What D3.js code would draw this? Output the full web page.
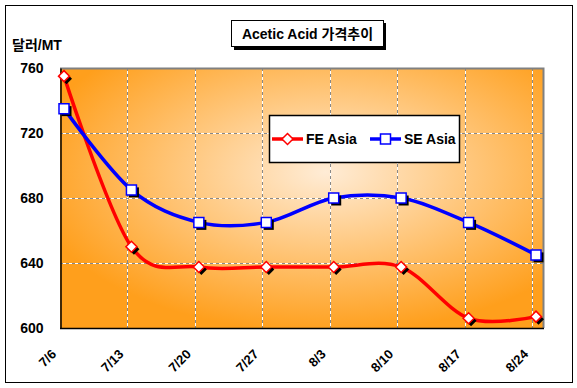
<!DOCTYPE html>
<html>
<head>
<meta charset="utf-8">
<script src="https://cdn.jsdelivr.net/npm/d3@7"></script>
<style>
  body { margin: 0; background: #fff; }
  text { font-family: "Liberation Sans", Arial, "Noto Sans CJK KR", sans-serif; font-weight: bold; }
</style>
</head>
<body>
<div id="chart"></div>
<script>
var dates = ["7/6", "7/13", "7/20", "7/27", "8/3", "8/10", "8/17", "8/24"];
var feAsia = [755, 650, 637.5, 637.5, 637.5, 637.5, 606, 607];
var seAsia = [735, 685, 665, 665, 680, 680, 665, 645];
var yTicks = [600, 640, 680, 720, 760];
var seriesNames = ["FE Asia", "SE Asia"];
var seriesColors = ["#ff0000", "#0000ff"];

var width = 577, height = 388;
var plot = { left: 60, right: 543, top: 68, bottom: 328 };
var markOffset = 4;

var svg = d3.select("#chart").append("svg")
  .attr("width", width)
  .attr("height", height);

// outer frame
svg.append("rect")
  .attr("x", 5.5).attr("y", 5.5)
  .attr("width", 567).attr("height", 377)
  .attr("fill", "#fff").attr("stroke", "#000");

var x = d3.scalePoint().domain(dates).range([plot.left, 532]);
var y = d3.scaleLinear().domain([600, 760]).range([plot.bottom, plot.top]);

var defs = svg.append("defs");
var grad = defs.append("radialGradient")
  .attr("id", "bg")
  .attr("cx", "55%").attr("cy", "40%")
  .attr("r", "62%");
grad.append("stop").attr("offset", "0%").attr("stop-color", "#ffecd6");
grad.append("stop").attr("offset", "100%").attr("stop-color", "#ff9f1c");

svg.append("rect")
  .attr("x", plot.left).attr("y", plot.top)
  .attr("width", plot.right - plot.left)
  .attr("height", plot.bottom - plot.top)
  .attr("fill", "url(#bg)");

// grid lines
var grid = svg.append("g");
var vLines = dates.slice(1);
var hLines = yTicks.slice(1, -1);
[["#fff", null], ["#888", "3,3"]].forEach(function(s) {
  grid.selectAll(null).data(vLines).enter().append("line")
    .attr("x1", function(d) { return Math.round(x(d)) + 0.5; })
    .attr("x2", function(d) { return Math.round(x(d)) + 0.5; })
    .attr("y1", plot.top).attr("y2", plot.bottom)
    .attr("stroke", s[0]).attr("stroke-dasharray", s[1]);
  grid.selectAll(null).data(hLines).enter().append("line")
    .attr("y1", function(d) { return Math.round(y(d)) + 0.5; })
    .attr("y2", function(d) { return Math.round(y(d)) + 0.5; })
    .attr("x1", plot.left).attr("x2", plot.right)
    .attr("stroke", s[0]).attr("stroke-dasharray", s[1]);
});

// plot border (gray top/right) and black axes
svg.append("path")
  .attr("d", "M" + plot.left + "," + (plot.top + 0.5) + "H" + (plot.right + 0.5) + "V" + plot.bottom)
  .attr("fill", "none").attr("stroke", "#808080").attr("stroke-width", 2);

var yAxis = d3.axisLeft(y).tickValues(yTicks).tickSize(0).tickPadding(17);
svg.append("g")
  .attr("transform", "translate(" + (plot.left + 0.5) + ",0)")
  .call(yAxis)
  .call(function(g) {
    g.select(".domain").attr("stroke", "#000").attr("stroke-width", 1.5);
    g.selectAll("text").attr("font-size", 14).attr("fill", "#000");
  });

svg.append("line")
  .attr("x1", plot.left).attr("x2", plot.right + 1)
  .attr("y1", plot.bottom + 0.5).attr("y2", plot.bottom + 0.5)
  .attr("stroke", "#000").attr("stroke-width", 1.5);

// x labels rotated
svg.append("g").selectAll("text").data(dates).enter().append("text")
  .attr("transform", function(d) { return "translate(" + (x(d) - 3) + ",355) rotate(-45)"; })
  .attr("text-anchor", "end")
  .attr("font-size", 13)
  .text(function(d) { return d; });

// unit label
svg.append("text")
  .attr("x", 12).attr("y", 50)
  .attr("font-size", 14)
  .text("달러/MT");

// series
var series = [feAsia, seAsia];
var line = d3.line()
  .x(function(d, i) { return x(dates[i]) + markOffset; })
  .y(function(d) { return y(d); })
  .curve(d3.curveCardinal.tension(0));

var diamond = "M0,-5.5L5.5,0L0,5.5L-5.5,0Z";
var square = "M-5,-5H5V5H-5Z";
var shapes = [diamond, square];

series.forEach(function(vals, si) {
  svg.append("path")
    .datum(vals)
    .attr("d", line)
    .attr("fill", "none")
    .attr("stroke", seriesColors[si])
    .attr("stroke-width", 3.5);
  var m = svg.append("g").selectAll("g").data(vals).enter().append("g")
    .attr("transform", function(d, i) {
      return "translate(" + (x(dates[i]) + markOffset) + "," + y(d) + ")";
    });
  m.append("path").attr("d", shapes[si])
    .attr("transform", "translate(2.5,2.5)")
    .attr("fill", "#000");
  m.append("path").attr("d", shapes[si])
    .attr("fill", "#fff")
    .attr("stroke", seriesColors[si])
    .attr("stroke-width", 1.5);
});

// legend
var legend = svg.append("g");
legend.append("rect")
  .attr("x", 269.5).attr("y", 115.5)
  .attr("width", 190).attr("height", 47)
  .attr("fill", "#fff").attr("stroke", "#000").attr("stroke-width", 1.5);
var legX = [272, 370];
seriesNames.forEach(function(name, si) {
  var g = legend.append("g").attr("transform", "translate(" + legX[si] + ",139)");
  g.append("line").attr("x1", 0).attr("x2", 31)
    .attr("stroke", seriesColors[si]).attr("stroke-width", 3.5);
  g.append("path").attr("d", shapes[si])
    .attr("transform", "translate(15.5,0)")
    .attr("fill", "#fff").attr("stroke", seriesColors[si]).attr("stroke-width", 1.5);
  g.append("text").attr("x", 34).attr("y", 5)
    .attr("font-size", 14)
    .text(name);
});

// title box
var title = svg.append("g");
title.append("rect")
  .attr("x", 234).attr("y", 23)
  .attr("width", 152).attr("height", 27)
  .attr("fill", "#000");
title.append("rect")
  .attr("x", 231.5).attr("y", 20.5)
  .attr("width", 152).attr("height", 26)
  .attr("fill", "#fff").attr("stroke", "#000");
title.append("text")
  .attr("x", 307.5).attr("y", 38.5)
  .attr("text-anchor", "middle")
  .attr("font-size", 14)
  .text("Acetic Acid 가격추이");
</script>
</body>
</html>
